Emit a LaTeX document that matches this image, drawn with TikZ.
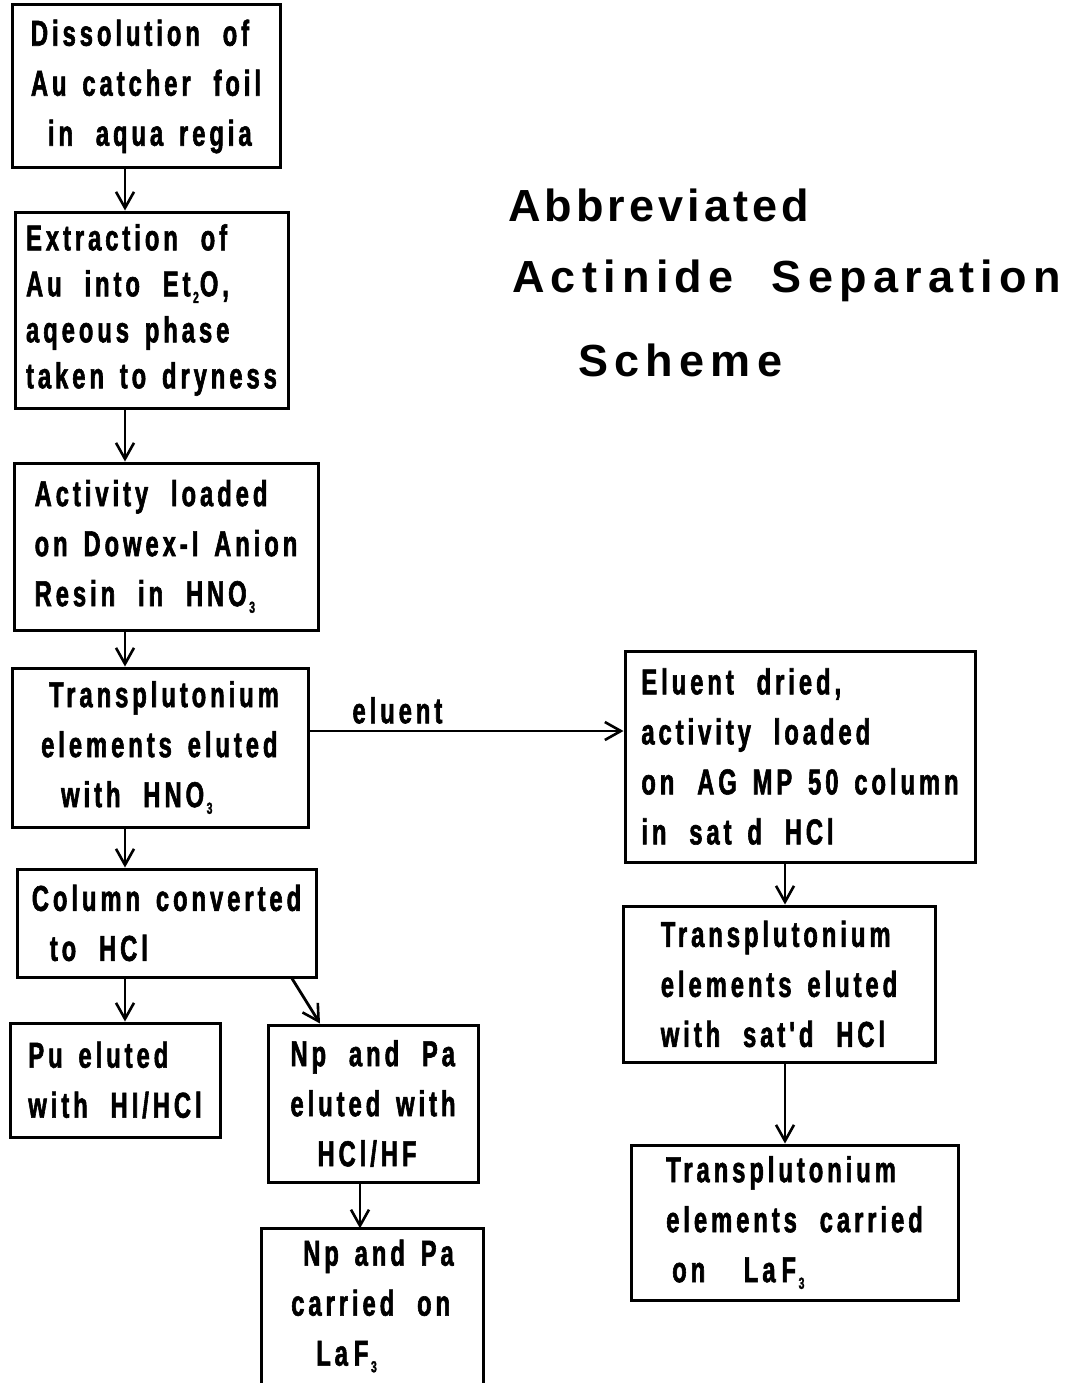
\documentclass[tikz,border=0pt]{standalone}
\usepackage{fontspec}
\setmainfont{Liberation Sans}
\newfontfamily\boxfont{Liberation Sans}[FakeStretch=0.66,LetterSpace=11,WordSpace=1.5,FakeBold=1.6]
\newfontfamily\titlefont{Liberation Sans}[LetterSpace=9]
\newfontfamily\titlefontw{Liberation Sans}[LetterSpace=14]
\usetikzlibrary{arrows.meta}
\newcommand\lowsub[1]{\kern2.5pt\raisebox{-0.35ex}{\fontsize{16}{16}\selectfont #1}\kern1pt}
\newcommand\wsp{\ \hspace{7pt}}
\begin{document}
\begin{tikzpicture}[x=1pt,y=-1pt,
  bfont/.style={font=\boxfont\bfseries\fontsize{36}{50}\selectfont},
  boxtext/.style={bfont, align=left, inner sep=0pt},
  box/.style={boxtext, draw, line width=3pt},
  arr/.style={-{Straight Barb[length=16pt,width=18pt,line width=2.6pt]}, line width=2.8pt},
  ttl/.style={font=\titlefont\bfseries\fontsize{45}{50}\selectfont, anchor=base west, inner sep=0pt},
  ttlw/.style={ttl, font=\titlefontw\bfseries\fontsize{45}{50}\selectfont}]
\useasboundingbox (0,0) rectangle (1070,1383);
\clip (0,0) rectangle (1070,1383);
% column axes
\coordinate (cA) at (125,0);
\coordinate (cB) at (360,0);
\coordinate (cC) at (785,0);
\coordinate (dA) at (292,0);
\coordinate (dB) at (320,0);
\coordinate (rE) at (0,731);
% title
\node[ttl] (t1) at (508,222) {Abbreviated};
\node[ttlw] (t2) at (512,292) {Actinide\hspace{38pt}Separation};
\node[ttlw] (t3) at (578,376) {Scheme};
% left column
\node[box, minimum width=268, minimum height=163] (dis) at (146,86.5)
  {Dissolution\wsp of\\Au catcher\wsp foil\\\hspace*{17pt}in\wsp aqua regia};
\node[box, minimum width=273, minimum height=196, font=\boxfont\bfseries\fontsize{36}{46}\selectfont] (ext) at (151.5,310)
  {Extraction\wsp of\\Au\wsp into\wsp Et\lowsub{2}O,\\aqeous phase\\taken to dryness};
\node[box, minimum width=304, minimum height=167] (act) at (166,546.5)
  {Activity\wsp loaded\\on Dowex-I Anion\\Resin\wsp in\wsp HNO\lowsub{3}};
\node[box, minimum width=296, minimum height=159] (tr1) at (160,747.5)
  {\hspace*{8pt}Transplutonium\\elements eluted\\\hspace*{20pt}with\wsp HNO\lowsub{3}};
\node[box, minimum width=299, minimum height=108] (conv) at (166.5,923)
  {Column converted\\\hspace*{18pt}to\wsp HCl};
\node[box, minimum width=210, minimum height=114] (pu) at (115,1080)
  {Pu eluted\\with\wsp HI/HCl};
\node[box, minimum width=210, minimum height=157] (npe) at (373,1103.5)
  {Np\wsp and\wsp Pa\\eluted with\\\hspace*{27pt}HCl/HF};
\node[boxtext, minimum width=221, minimum height=155] (npc) at (372.5,1306)
  {\hspace*{12pt}Np and Pa\\carried\wsp on\\\hspace*{25pt}La\,F\lowsub{3}};
\draw[line width=3pt] (npc.south west) -- (npc.north west) -- (npc.north east) -- (npc.south east);
% right column
\node[box, minimum width=350, minimum height=211] (dry) at (800,756.5)
  {Eluent\wsp dried,\\activity\wsp loaded\\on\wsp AG MP 50 column\\in\wsp sat d\wsp HCl};
\node[box, minimum width=312, minimum height=156] (tr2) at (779,984)
  {Transplutonium\\elements eluted\\with\wsp sat'd\wsp HCl};
\node[box, minimum width=327, minimum height=155] (tr3) at (794.5,1222.5)
  {Transplutonium\\elements\wsp carried\\\hspace*{6pt}on\wsp\ La\,F\lowsub{3}};
% connectors
\draw[arr] (dis.south -| cA) -- (ext.north -| cA);
\draw[arr] (ext.south -| cA) -- (act.north -| cA);
\draw[arr] (act.south -| cA) -- (tr1.north -| cA);
\draw[arr] (tr1.south -| cA) -- (conv.north -| cA);
\draw[arr] (conv.south -| cA) -- (pu.north -| cA);
\draw[arr] (conv.south -| dA) -- (npe.north -| dB);
\draw[arr] (npe.south -| cB) -- (npc.north -| cB);
\draw[arr] (tr1.east |- rE) -- (dry.west |- rE)
  node[pos=0.28, above=6pt, bfont, inner sep=0pt] (elu) {eluent};
\draw[arr] (dry.south -| cC) -- (tr2.north -| cC);
\draw[arr] (tr2.south -| cC) -- (tr3.north -| cC);
\end{tikzpicture}
\end{document}
